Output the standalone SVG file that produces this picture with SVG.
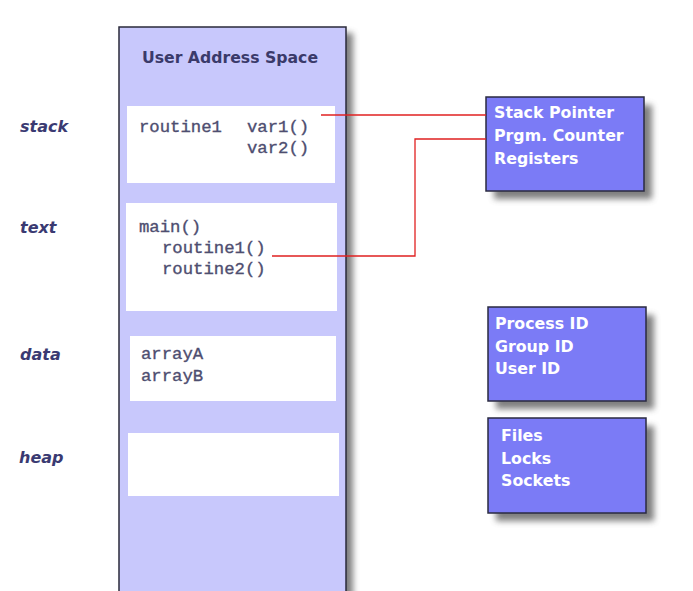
<svg xmlns="http://www.w3.org/2000/svg" width="693" height="591" viewBox="0 0 693 591">
<defs>
<filter id="sh" x="-10%" y="-10%" width="130%" height="130%">
<feGaussianBlur stdDeviation="3"/>
</filter>
<style>
.panel{fill:#c8c8fc;stroke:#2a2a3a;stroke-width:1.5}
.seg{fill:#ffffff}
.box{fill:#7b7bf6;stroke:#2a2a40;stroke-width:1.5}
.shadow{fill:#555;opacity:0.75;filter:url(#sh)}
.lbl{font-family:"DejaVu Sans",Verdana,sans-serif;font-weight:bold;font-style:italic;font-size:16px;fill:#3a3a72}
.title{font-family:"DejaVu Sans",Verdana,sans-serif;font-weight:bold;font-size:15.7px;fill:#3a3a6a}
.code{font-family:"Liberation Mono","Courier New",monospace;font-size:17.3px;fill:#4e4e70;stroke:#4e4e70;stroke-width:0.35}
.bt{font-family:"DejaVu Sans",Verdana,sans-serif;font-weight:bold;font-size:15.8px;fill:#ffffff}
.conn{fill:none;stroke:#e02020;stroke-width:1.3}
</style>
</defs>
<rect width="693" height="591" fill="#ffffff"/>

<g id="labels">
<text class="lbl" x="20" y="132">stack</text>
<text class="lbl" x="20" y="233">text</text>
<text class="lbl" x="20" y="360">data</text>
<text class="lbl" x="19" y="463">heap</text>
</g>

<g id="user-address-space">
<rect class="shadow" x="125" y="33" width="228" height="570"/>
<rect class="panel" x="119" y="27" width="227" height="570"/>
<text class="title" x="230" y="63" text-anchor="middle">User Address Space</text>
</g>

<g id="stack-segment">
<rect class="seg" x="127" y="106" width="208" height="77"/>
<text class="code" x="139" y="132">routine1</text>
<text class="code" x="247" y="132">var1()</text>
<text class="code" x="247" y="153">var2()</text>
</g>

<g id="text-segment">
<rect class="seg" x="126" y="203" width="211" height="108"/>
<text class="code" x="139" y="232">main()</text>
<text class="code" x="162" y="253">routine1()</text>
<text class="code" x="162" y="274">routine2()</text>
</g>

<g id="data-segment">
<rect class="seg" x="130" y="336" width="206" height="65"/>
<text class="code" x="141" y="359">arrayA</text>
<text class="code" x="141" y="381">arrayB</text>
</g>

<g id="heap-segment">
<rect class="seg" x="128" y="433" width="211" height="63"/>
</g>

<g id="registers">
<rect class="shadow" x="494" y="105" width="158" height="94"/>
<rect class="box" x="486" y="97" width="158" height="94"/>
<text class="bt" x="494" y="118">Stack Pointer</text>
<text class="bt" x="494" y="141">Prgm. Counter</text>
<text class="bt" x="494" y="164">Registers</text>
</g>

<g id="ids">
<rect class="shadow" x="496" y="315" width="158" height="94"/>
<rect class="box" x="488" y="307" width="158" height="94"/>
<text class="bt" x="495" y="329">Process ID</text>
<text class="bt" x="495" y="352">Group ID</text>
<text class="bt" x="495" y="374">User ID</text>
</g>

<g id="resources">
<rect class="shadow" x="496" y="426" width="158" height="95"/>
<rect class="box" x="488" y="418" width="158" height="95"/>
<text class="bt" x="501" y="441">Files</text>
<text class="bt" x="501" y="464">Locks</text>
<text class="bt" x="501" y="486">Sockets</text>
</g>

<g id="connectors">
<path class="conn" d="M321 115 H486"/>
<path class="conn" d="M272 256 H415 V139 H486"/>
</g>
</svg>
